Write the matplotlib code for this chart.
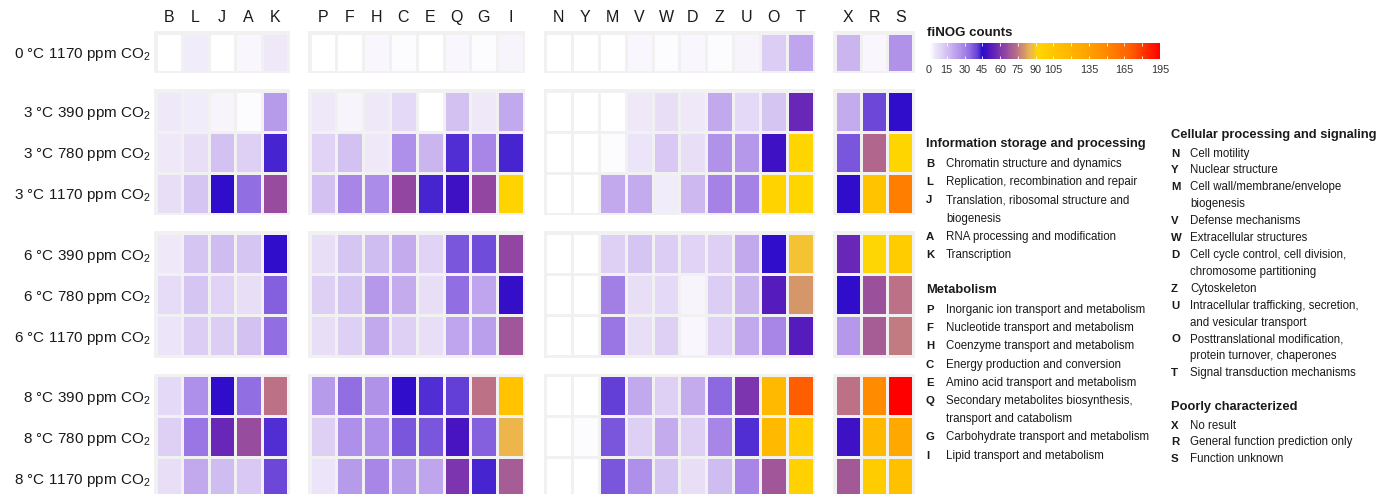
import numpy as np
import matplotlib
matplotlib.use('Agg')
import matplotlib.pyplot as plt
from matplotlib.colors import LinearSegmentedColormap, Normalize
from matplotlib.cm import ScalarMappable

plt.rcParams['font.family'] = ['Liberation Sans', 'DejaVu Sans']
plt.rcParams['mathtext.fontset'] = 'custom'
plt.rcParams['mathtext.rm'] = 'Liberation Sans'

# conditions (rows), grouped by temperature
conditions = ['0 °C 1170 ppm CO$_2$',
              '3 °C 390 ppm CO$_2$', '3 °C 780 ppm CO$_2$', '3 °C 1170 ppm CO$_2$',
              '6 °C 390 ppm CO$_2$', '6 °C 780 ppm CO$_2$', '6 °C 1170 ppm CO$_2$',
              '8 °C 390 ppm CO$_2$', '8 °C 780 ppm CO$_2$', '8 °C 1170 ppm CO$_2$']
row_group_sizes = [1, 3, 3, 3]

# COG categories (columns), grouped by functional class
info_cats = ['B', 'L', 'J', 'A', 'K']
metab_cats = ['P', 'F', 'H', 'C', 'E', 'Q', 'G', 'I']
cell_cats = ['N', 'Y', 'M', 'V', 'W', 'D', 'Z', 'U', 'O', 'T']
poor_cats = ['X', 'R', 'S']
col_groups = [info_cats, metab_cats, cell_cats, poor_cats]

# fiNOG counts, one list per condition, columns in the order above
counts = [
    [0, 4, 0, 2, 5,   0, 0, 2, 1, 0, 2, 1, 3,          0, 0, 0, 2, 1, 2, 1, 3, 12, 22,     18, 2, 26],
    [5, 4, 3, 1, 24,  5, 3, 5, 9, 0, 15, 5, 21,        0, 0, 0, 5, 7, 5, 21, 9, 14, 56,    20, 40, 46],
    [5, 7, 15, 11, 43, 10, 15, 5, 27, 18, 42, 29, 43,  0, 0, 1, 6, 13, 7, 26, 25, 48, 93,  38, 72, 93],
    [7, 14, 46, 34, 66, 15, 29, 28, 64, 43, 48, 64, 95, 0, 0, 21, 20, 4, 17, 30, 30, 95, 93, 46, 108, 155],
    [5, 14, 16, 14, 46, 7, 14, 16, 20, 10, 38, 39, 64, 0, 0, 11, 14, 12, 10, 11, 21, 46, 88, 56, 92, 100],
    [8, 14, 10, 7, 36, 11, 14, 25, 20, 7, 34, 22, 47,  0, 0, 31, 7, 9, 3, 12, 18, 52, 80,   46, 67, 74],
    [6, 12, 12, 15, 34, 7, 11, 21, 11, 7, 22, 23, 68,  0, 0, 32, 7, 11, 2, 10, 21, 29, 52,  25, 70, 76],
    [9, 27, 46, 34, 74, 24, 34, 26, 46, 42, 41, 74, 108, 0, 0, 41, 21, 11, 20, 35, 60, 115, 170, 74, 148, 195],
    [11, 32, 56, 66, 42, 11, 27, 27, 38, 38, 50, 36, 86, 0, 1, 38, 11, 20, 11, 29, 42, 115, 100, 48, 115, 130],
    [7, 21, 16, 13, 40, 6, 24, 29, 24, 22, 60, 43, 70, 0, 0, 38, 27, 14, 7, 16, 29, 68, 96, 69, 100, 110],
]

cbar_breaks = list(range(0, 196, 15))
cbar_labels = ['0', '15', '30', '45', '60', '75', '90', '105', '', '135', '', '165', '', '195']

legend_info = [('B', ['Chromatin structure and dynamics']),
               ('L', ['Replication, recombination and repair']),
               ('J', ['Translation, ribosomal structure and', 'biogenesis']),
               ('A', ['RNA processing and modification']),
               ('K', ['Transcription'])]
legend_metab = [('P', ['Inorganic ion transport and metabolism']),
                ('F', ['Nucleotide transport and metabolism']),
                ('H', ['Coenzyme transport and metabolism']),
                ('C', ['Energy production and conversion']),
                ('E', ['Amino acid transport and metabolism']),
                ('Q', ['Secondary metabolites biosynthesis,', 'transport and catabolism']),
                ('G', ['Carbohydrate transport and metabolism']),
                ('I', ['Lipid transport and metabolism'])]
legend_cell = [('N', ['Cell motility']),
               ('Y', ['Nuclear structure']),
               ('M', ['Cell wall/membrane/envelope', 'biogenesis']),
               ('V', ['Defense mechanisms']),
               ('W', ['Extracellular structures']),
               ('D', ['Cell cycle control, cell division,', 'chromosome partitioning']),
               ('Z', ['Cytoskeleton']),
               ('U', ['Intracellular trafficking, secretion,', 'and vesicular transport']),
               ('O', ['Posttranslational modification,', 'protein turnover, chaperones']),
               ('T', ['Signal transduction mechanisms'])]
legend_poor = [('X', ['No result']),
               ('R', ['General function prediction only']),
               ('S', ['Function unknown'])]

# colour scale white -> blue -> gold -> red
vmax = 195
anchors = [(0, '#ffffff'), (5, '#ede6f9'), (10, '#e0d3f5'), (15, '#d2c0f1'), (20, '#c4abee'),
           (25, '#b396ea'), (30, '#a482e6'), (35, '#8a66e0'), (40, '#6a45d8'), (45, '#2a0ccc'),
           (50, '#4a14c0'), (56, '#6a28b8'), (64, '#9245a2'), (70, '#a85e94'), (74, '#bb7088'),
           (80, '#d4956b'), (86, '#eeb84a'), (92, '#ffd700'), (100, '#ffcc00'), (110, '#ffc000'),
           (130, '#ffa800'), (150, '#ff8800'), (170, '#ff6000'), (195, '#ff0000')]
cmap = LinearSegmentedColormap.from_list('finog', [(v / vmax, c) for v, c in anchors])
norm = Normalize(0, vmax)

W, H = 1394, 494
fig = plt.figure(figsize=(W / 100, H / 100), dpi=100)
bg = '#f1f1f1'
txt = '#1a1a1a'

values = np.array(counts, dtype=float)
gs = fig.add_gridspec(4, 4, width_ratios=[len(g) for g in col_groups], height_ratios=row_group_sizes,
                      left=154 / W, right=915 / W, top=1 - 31 / H, bottom=-6 / H,
                      wspace=0.102, hspace=0.152)

row_start = np.cumsum([0] + row_group_sizes)
col_start = np.cumsum([0] + [len(g) for g in col_groups])
for i, nr in enumerate(row_group_sizes):
    for j, cats in enumerate(col_groups):
        ax = fig.add_subplot(gs[i, j])
        nc = len(cats)
        sub = values[row_start[i]:row_start[i] + nr, col_start[j]:col_start[j] + nc]
        ax.pcolormesh(np.arange(nc + 1) - 0.5, np.arange(nr + 1) - 0.5, sub, cmap=cmap, norm=norm,
                      edgecolors=bg, linewidth=2.0)
        ax.set_facecolor(bg)
        ax.set_xlim(-0.56, nc - 0.44)
        ax.set_ylim(nr - 0.46, -0.54)
        for s in ax.spines.values():
            s.set_visible(False)
        ax.tick_params(length=0)
        if i == 0:
            ax.xaxis.tick_top()
            ax.set_xticks(range(nc))
            ax.set_xticklabels(cats, fontsize=11.5, color=txt)
            ax.tick_params(axis='x', pad=4)
        else:
            ax.set_xticks([])
        if j == 0:
            ax.set_yticks(range(nr))
            ax.set_yticklabels(conditions[row_start[i]:row_start[i] + nr], fontsize=11, color=txt)
            ax.tick_params(axis='y', pad=2.5)
        else:
            ax.set_yticks([])

# colour bar
cax = fig.add_axes([929 / W, 1 - 59 / H, (1160 - 929) / W, 16 / H])
cb = fig.colorbar(ScalarMappable(norm=norm, cmap=cmap), cax=cax, orientation='horizontal')
cb.outline.set_visible(False)
cb.set_ticks(cbar_breaks)
cb.set_ticklabels(cbar_labels)
cax.tick_params(axis='x', direction='in', length=2.4, width=0.6, color='white',
                top=True, bottom=True, labelsize=7.8, labelcolor='#333333', pad=4.5)
fig.text(927 / W, 1 - 33 / H, 'fiNOG counts', fontsize=9.5, fontweight='bold', color=txt,
         va='center', ha='left')


def draw_legend(x_letter, x_text, y_head, step, title, entries):
    fig.text(x_letter / W, 1 - y_head / H, title, fontsize=9.3, fontweight='bold',
             color=txt, va='center', ha='left')
    y = y_head + step * 1.1
    for letter, lines in entries:
        fig.text(x_letter / W, 1 - y / H, letter, fontsize=8.2, fontweight='bold',
                 color=txt, va='center', ha='left')
        for ln in lines:
            fig.text(x_text / W, 1 - y / H, ln, fontsize=8.3, color=txt, va='center', ha='left')
            y += step
    return y


draw_legend(926, 946, 144, 18.2, 'Information storage and processing', legend_info)
draw_legend(926, 946, 290, 18.2, 'Metabolism', legend_metab)
draw_legend(1171, 1190, 135, 16.9, 'Cellular processing and signaling', legend_cell)
draw_legend(1171, 1190, 407, 16.9, 'Poorly characterized', legend_poor)

fig.savefig('out.png', dpi=100)
